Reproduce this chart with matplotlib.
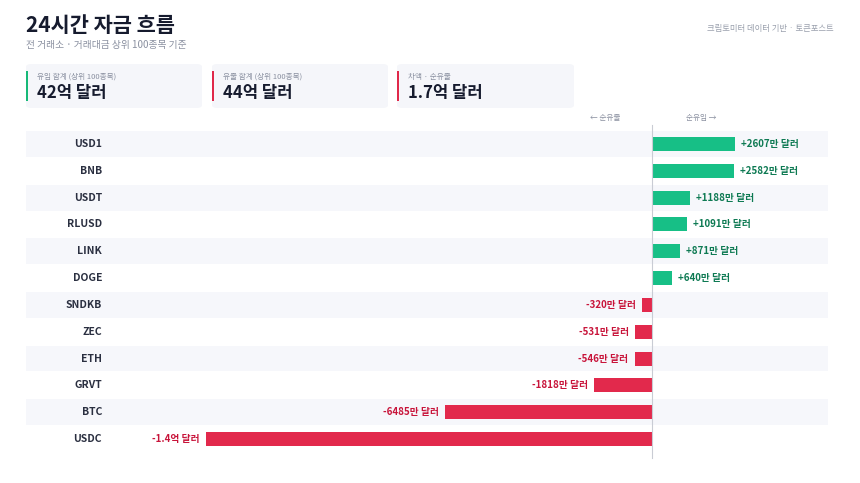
import matplotlib
matplotlib.use("Agg")
import matplotlib.pyplot as plt
from matplotlib.patches import FancyBboxPatch, Rectangle

plt.rcParams['font.family'] = ['Noto Sans CJK KR', 'DejaVu Sans']

coins = ["USD1", "BNB", "USDT", "RLUSD", "LINK", "DOGE", "SNDKB", "ZEC", "ETH", "GRVT", "BTC", "USDC"]
flows = [2607, 2582, 1188, 1091, 871, 640, -320, -531, -546, -1818, -6485, -14000]  # 만 달러
labels = ["+2607만 달러", "+2582만 달러", "+1188만 달러", "+1091만 달러", "+871만 달러", "+640만 달러",
          "-320만 달러", "-531만 달러", "-546만 달러", "-1818만 달러", "-6485만 달러", "-1.4억 달러"]
cards = [("유입 합계 (상위 100종목)", "42억 달러", "#17b978"),
         ("유출 합계 (상위 100종목)", "44억 달러", "#e0294a"),
         ("차액 · 순유출", "1.7억 달러", "#e0294a")]

W, H = 860, 483
fig = plt.figure(figsize=(8.6, 4.83), dpi=100)
fig.patch.set_facecolor("white")
GREEN, RED = "#17bf86", "#e2294c"

def fx(p): return p / W
def fy(p): return 1 - p / H

fig.text(fx(26), fy(25), "24시간 자금 흐름", fontsize=15, fontweight="bold", color="#161b2e", va="center")
fig.text(fx(26), fy(45), "전 거래소 · 거래대금 상위 100종목 기준", fontsize=7, color="#8a90a0", va="center")
fig.text(fx(834), fy(29), "크립토미터 데이터 기반 · 토큰포스트", fontsize=6, color="#9aa0ad", va="center", ha="right")

xs = [(26, 202), (212, 388), (397, 574)]
for (x0, x1), (t, v, c) in zip(xs, cards):
    fig.patches.append(FancyBboxPatch((fx(x0), fy(108)), fx(x1 - x0), (108 - 64) / H,
                                      boxstyle="round,pad=0,rounding_size=0.006", transform=fig.transFigure,
                                      facecolor="#f5f6fa", edgecolor="none"))
    fig.patches.append(Rectangle((fx(x0), fy(101)), fx(2), 30 / H, transform=fig.transFigure,
                                 facecolor=c, edgecolor="none"))
    fig.text(fx(x0 + 11), fy(77), t, fontsize=5.5, color="#8a90a0", va="center")
    fig.text(fx(x0 + 11), fy(93), v, fontsize=12, fontweight="bold", color="#161b2e", va="center")

fig.text(fx(620), fy(118), "← 순유출", fontsize=5.5, color="#8a90a0", va="center", ha="right")
fig.text(fx(686), fy(118), "순유입 →", fontsize=5.5, color="#8a90a0", va="center", ha="left")

scale = 446 / 14000
ax = fig.add_axes([fx(26), fy(452.4), fx(828 - 26), (452.4 - 130.6) / H])
ax.set_xlim((26 - 652) / scale, (828 - 652) / scale)
ax.set_ylim(len(coins) - 0.5, -0.5)
ax.axis("off")
for i, (c, v, l) in enumerate(zip(coins, flows, labels)):
    if i % 2 == 0:
        ax.axhspan(i - 0.48, i + 0.48, color="#f6f7fb", zorder=0, lw=0)
    col = GREEN if v > 0 else RED
    ax.barh(i, v, height=0.52, color=col, zorder=2)
    off = 6 / scale
    ax.text(v + (off if v > 0 else -off), i, l, fontsize=7, fontweight="bold",
            color="#0e7a53" if v > 0 else "#c8143a", va="center", ha="left" if v > 0 else "right")
    ax.text((102 - 652) / scale, i, c, fontsize=7.5, fontweight="bold", color="#2a2f40", va="center", ha="right")
ax.plot([0, 0], [-0.7, 11.7], color="#c9ccd4", lw=0.8, zorder=3, clip_on=False)

fig.savefig("out.png", dpi=100)
